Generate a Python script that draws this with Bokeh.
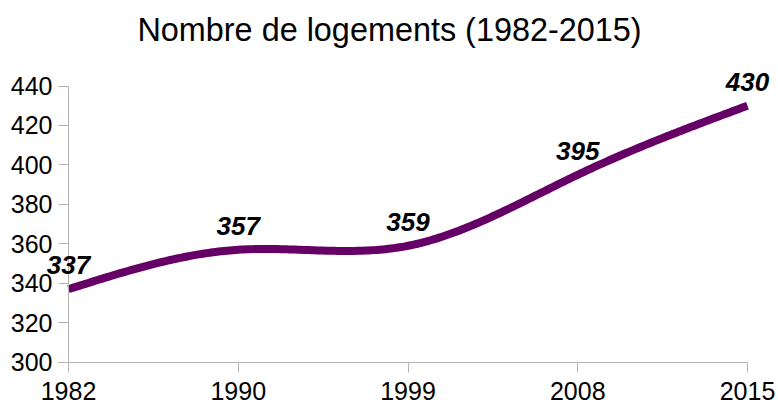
import numpy as np
from bokeh.plotting import figure
from bokeh.models import (ColumnDataSource, LabelSet, Label, FixedTicker,
                          Range1d, LinearAxis)
from bokeh.core.properties import value
from bokeh.embed import file_html
from bokeh.resources import INLINE

# ---- data ----
years = ["1982", "1990", "1999", "2008", "2015"]
logements = [337, 357, 359, 395, 430]
y_ticks = [300, 320, 340, 360, 380, 400, 420, 440]
title_text = "Nombre de logements (1982-2015)"

FONT = "Liberation Sans"
GRID = "#b3b3b3"
LINE = "#660066"

W, H = 778, 407
# plot-area placement in pixels (layout only)
PL, PR, PT, PB = 68.0, 747.0, 85.5, 361.7
Y0, Y1 = 300.0, 440.0

xs = np.arange(len(years), dtype=float)
ys = np.array(logements, dtype=float)

# ranges so that the category span / value span land on the plot area
xpx = (PR - PL) / (len(years) - 1)
ypx = (PB - PT) / (Y1 - Y0)
x_start = -PL / xpx
x_end = (len(years) - 1) + (W - PR) / xpx
y_end = Y1 + PT / ypx
y_start = Y0 - (H - PB) / ypx

# natural cubic spline for the smoothed line rendering
n = len(xs)
A = np.zeros((n, n))
b = np.zeros(n)
A[0, 0] = 1.0
A[-1, -1] = 1.0
for i in range(1, n - 1):
    A[i, i - 1] = 1.0
    A[i, i] = 4.0
    A[i, i + 1] = 1.0
    b[i] = 6.0 * (ys[i + 1] - 2 * ys[i] + ys[i - 1])
M = np.linalg.solve(A, b)
sx, sy = [], []
for i in range(n - 1):
    t = np.linspace(0, 1, 60, endpoint=(i == n - 2))
    y0, y1 = ys[i], ys[i + 1]
    m0, m1 = M[i], M[i + 1]
    val = ((1 - t) * y0 + t * y1
           + ((1 - t) ** 3 - (1 - t)) * m0 / 6.0
           + (t ** 3 - t) * m1 / 6.0)
    sx.extend(list(xs[i] + t))
    sy.extend(list(val))

p = figure(width=W, height=H, output_backend="svg", toolbar_location=None,
           title=None, x_axis_type=None, y_axis_type=None,
           x_range=Range1d(x_start, x_end), y_range=Range1d(y_start, y_end),
           min_border_left=0, min_border_right=0, min_border_top=0,
           min_border_bottom=0)
p.background_fill_color = "white"
p.border_fill_color = "white"
p.outline_line_color = None

tick_len = 10
x_axis_left = -tick_len / xpx

xaxis = LinearAxis(fixed_location=Y0, bounds=(x_axis_left, xs[-1]),
                   ticker=FixedTicker(ticks=list(xs)),
                   major_label_overrides={i: y for i, y in enumerate(years)},
                   major_label_standoff=10)
yaxis = LinearAxis(fixed_location=0, bounds=(Y0, Y1),
                   ticker=FixedTicker(ticks=y_ticks),
                   major_label_standoff=6)
for ax in (xaxis, yaxis):
    ax.axis_line_color = GRID
    ax.major_tick_line_color = GRID
    ax.major_tick_in = 0
    ax.major_tick_out = tick_len
    ax.minor_tick_line_color = None
    ax.major_label_text_font = FONT
    ax.major_label_text_font_size = "25px"
    ax.major_label_text_color = "#000000"
p.add_layout(xaxis, "below")
p.add_layout(yaxis, "left")

# horizontal grid lines between first and last category
p.ygrid.ticker = FixedTicker(ticks=y_ticks)
p.ygrid.bounds = (0, xs[-1])
p.ygrid.grid_line_color = GRID
p.ygrid.grid_line_width = 1
# right border of the plot area at the last category
p.xgrid.ticker = FixedTicker(ticks=[xs[-1]])
p.xgrid.bounds = (Y0, Y1)
p.xgrid.grid_line_color = GRID
p.xgrid.grid_line_width = 1

p.line(sx, sy, line_color=LINE, line_width=8, line_cap="butt",
       line_join="round")

src = ColumnDataSource(dict(x=list(xs), y=logements, t=[str(v) for v in logements]))
p.add_layout(LabelSet(x="x", y="y", text="t", source=src, y_offset=15,
                      text_align="center", text_baseline="alphabetic",
                      text_font=value(FONT), text_font_size=value("26px"),
                      text_font_style=value("bold italic"),
                      text_color=value("#000000")))

p.add_layout(Label(x=W / 2, y=H - 29, x_units="screen", y_units="screen",
                   text=title_text, text_align="center",
                   text_baseline="alphabetic", text_font=FONT,
                   text_font_size="32.4px", text_color="#000000"))

open("out.html", "w").write(file_html(p, INLINE))
